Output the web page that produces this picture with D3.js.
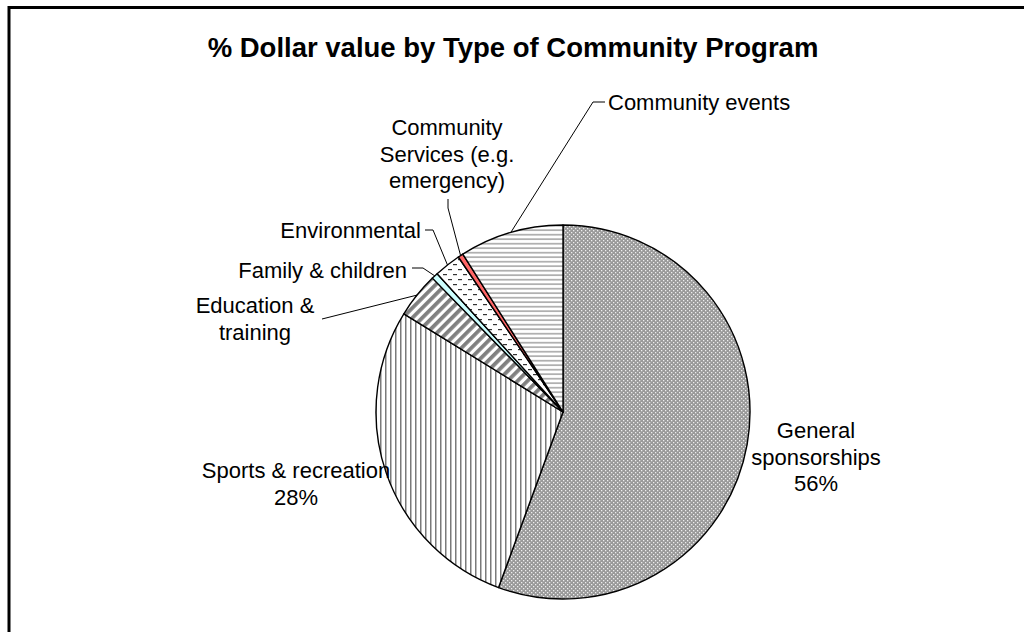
<!DOCTYPE html>
<html>
<head>
<meta charset="utf-8">
<script src="https://cdn.jsdelivr.net/npm/d3@7"></script>
<style>
  body { margin: 0; background: #fff; }
  text { font-family: "Liberation Sans", Arial, sans-serif; fill: #000; }
</style>
</head>
<body>
<script>
/* data, clockwise from 12 o'clock */
var categories = ["General sponsorships", "Sports & recreation", "Education & training",
                  "Family & children", "Environmental", "Community Services (e.g. emergency)",
                  "Community events"];
var values = [55.6, 28.2, 3.9, 0.55, 2.3, 0.45, 9.0];
var labelLines = [["General", "sponsorships"], ["Sports & recreation"], ["Education &", "training"],
                  ["Family & children"], ["Environmental"], ["Community", "Services (e.g.", "emergency)"],
                  ["Community events"]];
var showPercent = [true, true, false, false, false, false, false];

/* look of each slice */
var fills = ["url(#pGeneral)", "url(#pSports)", "url(#pEdu)", "#ccffff",
             "url(#pEnv)", "#ff6666", "url(#pEvents)"];

/* where each label sits and the bend of its leader line */
var labelLayout = [
  { x: 816, y: 438, anchor: "middle", leader: null },
  { x: 296, y: 478, anchor: "middle", leader: null },
  { x: 255, y: 313, anchor: "middle", leader: [[322, 319]] },
  { x: 407, y: 278, anchor: "end", leader: [[423, 268], [412, 268]] },
  { x: 421, y: 238, anchor: "end", leader: [[433, 230], [425, 230]] },
  { x: 447, y: 135, anchor: "middle", leader: [[448, 208], [448, 199]] },
  { x: 608, y: 110, anchor: "start", leader: [[593, 102], [605, 102]] }
];

var W = 1024, H = 632;
var cx = 563, cy = 412, R = 187;
var lineGap = 26.5;

var svg = d3.select("body").append("svg")
            .attr("width", W)
            .attr("height", H);

var defs = svg.append("defs");

// gray lattice
var pg = defs.append("pattern").attr("id", "pGeneral")
             .attr("patternUnits", "userSpaceOnUse").attr("width", 4).attr("height", 4);
pg.append("rect").attr("width", 4).attr("height", 4).attr("fill", "#999");
pg.append("rect").attr("x", 0).attr("y", 0).attr("width", 1.3).attr("height", 1.3).attr("fill", "#eee");
pg.append("rect").attr("x", 2).attr("y", 2).attr("width", 1.3).attr("height", 1.3).attr("fill", "#eee");

// vertical lines
var ps = defs.append("pattern").attr("id", "pSports")
             .attr("patternUnits", "userSpaceOnUse").attr("width", 5).attr("height", 5);
ps.append("rect").attr("width", 5).attr("height", 5).attr("fill", "#fff");
ps.append("rect").attr("x", 2).attr("width", 1.5).attr("height", 5).attr("fill", "#7a7a7a");

// horizontal lines
var pe = defs.append("pattern").attr("id", "pEvents")
             .attr("patternUnits", "userSpaceOnUse").attr("width", 4.5).attr("height", 4.5);
pe.append("rect").attr("width", 4.5).attr("height", 4.5).attr("fill", "#fff");
pe.append("rect").attr("y", 2).attr("width", 4.5).attr("height", 1.4).attr("fill", "#9a9a9a");

// wide diagonal stripes
var pd = defs.append("pattern").attr("id", "pEdu")
             .attr("patternUnits", "userSpaceOnUse").attr("width", 7).attr("height", 7)
             .attr("patternTransform", "rotate(45)");
pd.append("rect").attr("width", 7).attr("height", 7).attr("fill", "#fff");
pd.append("rect").attr("x", 0).attr("width", 3.8).attr("height", 7).attr("fill", "#808080");

// dashed horizontal
var pv = defs.append("pattern").attr("id", "pEnv")
             .attr("patternUnits", "userSpaceOnUse").attr("width", 10).attr("height", 10);
pv.append("rect").attr("width", 10).attr("height", 10).attr("fill", "#fff");
pv.append("rect").attr("x", 0).attr("y", 2).attr("width", 4).attr("height", 1.2).attr("fill", "#333");
pv.append("rect").attr("x", 5).attr("y", 7).attr("width", 4).attr("height", 1.2).attr("fill", "#333");

// chart frame (runs off the right and bottom)
svg.append("rect")
   .attr("x", 9).attr("y", 7.5)
   .attr("width", 1100).attr("height", 700)
   .attr("fill", "none")
   .attr("stroke", "#000")
   .attr("stroke-width", 3);

svg.append("text")
   .attr("x", 513).attr("y", 57)
   .attr("text-anchor", "middle")
   .style("font-size", "27.5px")
   .style("font-weight", "bold")
   .text("% Dollar value by Type of Community Program");

var rows = categories.map(function(c, i) { return { name: c, value: values[i], i: i }; });
var total = d3.sum(values);

var pie = d3.pie().sort(null).value(function(d) { return d.value; });
var arc = d3.arc().innerRadius(0).outerRadius(R);
var arcs = pie(rows);

var g = svg.append("g").attr("transform", "translate(" + cx + "," + cy + ")");

g.selectAll("path.slice")
 .data(arcs)
 .enter()
 .append("path")
 .attr("class", "slice")
 .attr("d", arc)
 .attr("fill", function(d) { return fills[d.data.i]; })
 .attr("stroke", "#000")
 .attr("stroke-width", 1.4)
 .attr("stroke-linejoin", "round");

// leader lines: from the slice's outer edge to the label
arcs.forEach(function(d) {
  var lay = labelLayout[d.data.i];
  if (!lay.leader) return;
  var mid = (d.startAngle + d.endAngle) / 2;
  var pts = [[cx + R * Math.sin(mid), cy - R * Math.cos(mid)]].concat(lay.leader);
  svg.append("path")
     .attr("d", d3.line()(pts))
     .attr("fill", "none")
     .attr("stroke", "#000")
     .attr("stroke-width", 1);
});

// labels
arcs.forEach(function(d) {
  var i = d.data.i;
  var lay = labelLayout[i];
  var lines = labelLines[i].slice();
  if (showPercent[i]) lines.push(Math.round(d.data.value / total * 100) + "%");
  var t = svg.append("text")
             .attr("text-anchor", lay.anchor)
             .style("font-size", "22px");
  lines.forEach(function(s, k) {
    t.append("tspan").attr("x", lay.x).attr("y", lay.y + k * lineGap).text(s);
  });
});
</script>
</body>
</html>
